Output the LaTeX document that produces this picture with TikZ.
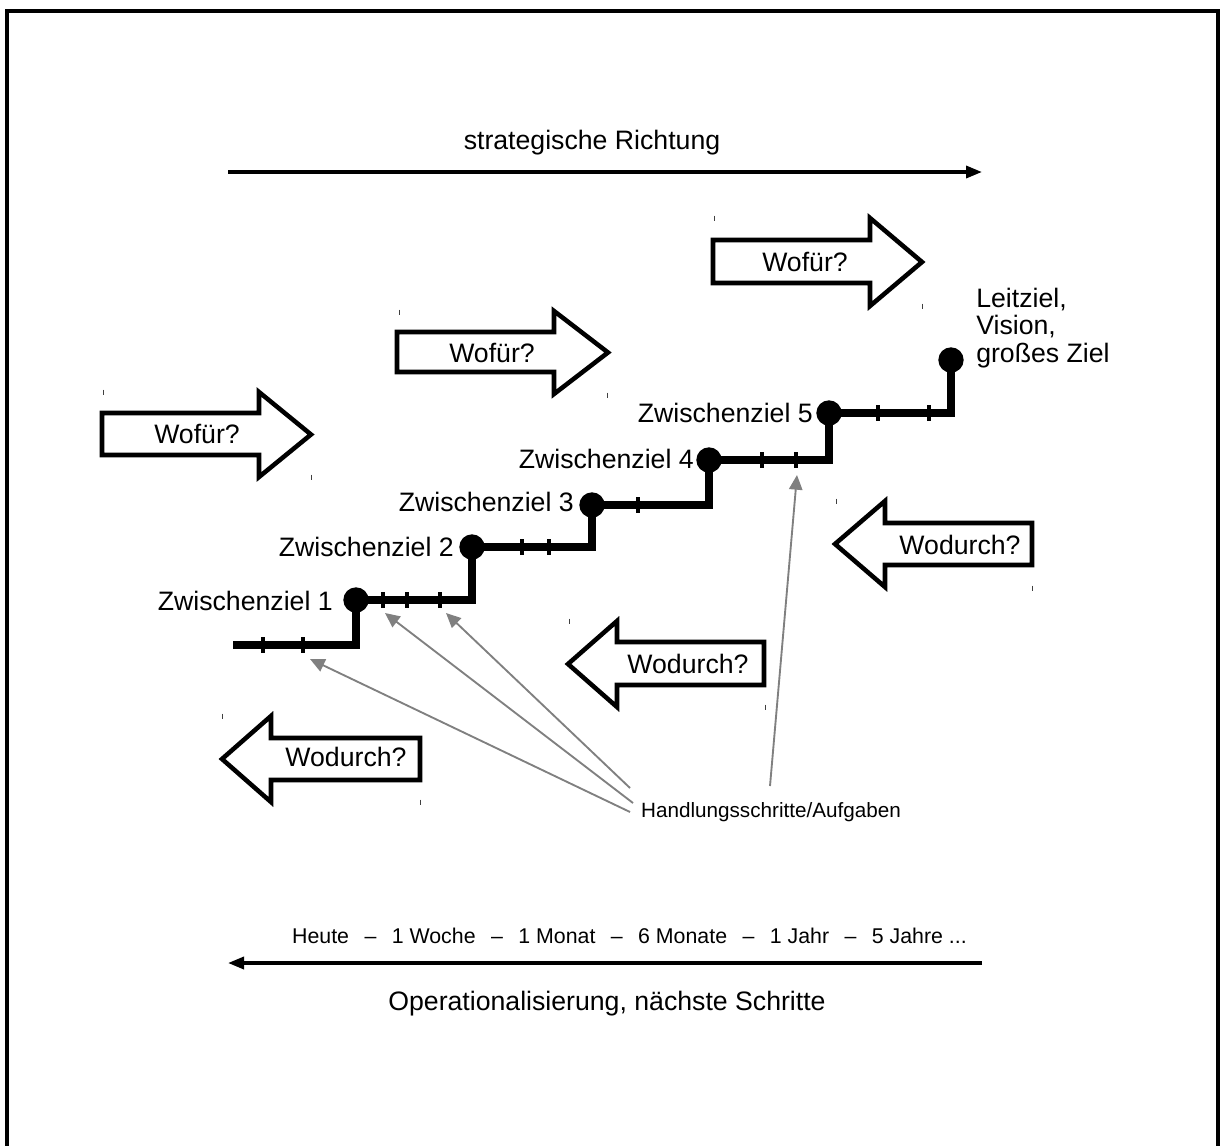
\documentclass[tikz,border=0pt]{standalone}
\usepackage{fontspec}
\setmainfont{Liberation Sans}
\usetikzlibrary{arrows.meta}
\begin{document}
\begin{tikzpicture}[x=0.75pt,y=-0.75pt,
  big/.style={font=\fontsize{20}{20.6}\selectfont, inner sep=0pt},
  small/.style={font=\fontsize{15.5}{18}\selectfont, inner sep=0pt},
  blockarrow/.style={draw=black, line width=3.4pt, line join=miter, fill=white},
  stair/.style={line width=5.4pt, line join=miter},
  tickmark/.style={line width=2.4pt},
  dot/.style={circle, fill=black, minimum size=19pt, inner sep=0pt},
  grayarrow/.style={draw={rgb,255:red,128;green,128;blue,128}, line width=1.4pt, -{Triangle[length=11pt,width=10pt]}},
  mainarrow/.style={line width=2.6pt, -{Triangle[length=12pt,width=9pt]}},
  cornermark/.style={line width=0.7pt, draw=black!75}]
\useasboundingbox (0,0) rectangle (1221,1146);
\begin{scope}
  \clip (0,0) rectangle (1221,1146);
  \draw[line width=3pt] (7,1170) -- (7,11) -- (1218,11) -- (1218,1170);
\end{scope}

% strategic direction
\node[big, anchor=base] (sr) at (592,149) {strategische Richtung};
\coordinate (srL) at (228,172);
\coordinate (srR) at (982,172);
\draw[mainarrow] (srL) -- (srR);

% Wofuer arrows
\draw[blockarrow] (102,413) -- (259,413) -- (259,392) -- (311,434.5) -- (259,477) -- (259,455) -- (102,455) -- cycle;
\node[big, anchor=base] (w1) at (197,443) {Wofür?};
\draw[blockarrow] (397,332) -- (554,332) -- (554,311) -- (608,352.5) -- (554,394) -- (554,372) -- (397,372) -- cycle;
\node[big, anchor=base] (w2) at (492,362) {Wofür?};
\draw[blockarrow] (713,240) -- (870,240) -- (870,218) -- (922,262) -- (870,306) -- (870,283) -- (713,283) -- cycle;
\node[big, anchor=base] (w3) at (805,271) {Wofür?};

% Wodurch arrows
\draw[blockarrow] (835,544) -- (885,501) -- (885,523) -- (1032,523) -- (1032,565) -- (885,565) -- (885,587) -- cycle;
\node[big, anchor=base] (d1) at (960,554) {Wodurch?};
\draw[blockarrow] (568,664) -- (617,621) -- (617,642) -- (764,642) -- (764,685) -- (617,685) -- (617,707) -- cycle;
\node[big, anchor=base] (d2) at (688,673) {Wodurch?};
\draw[blockarrow] (222,759) -- (271,716) -- (271,738) -- (420,738) -- (420,780) -- (271,780) -- (271,802) -- cycle;
\node[big, anchor=base] (d3) at (346,766) {Wodurch?};

% corner marks
\foreach \x/\y in {103/392,311/477,399/312,607/395,714/218,922/306,836/501,1032/588,569/621,765/707,222/716,420/802}
  \draw[cornermark] (\x,\y-2.5) -- (\x,\y+2.5);

% staircase
\coordinate (st) at (233,645);
\coordinate (c1) at (356,600);
\coordinate (c2) at (472,547);
\coordinate (c3) at (592,505);
\coordinate (c4) at (709,460);
\coordinate (c5) at (829,413);
\coordinate (c6) at (951,360);
\draw[stair] (st) -| (c1) -| (c2) -| (c3) -| (c4) -| (c5) -| (c6);
\foreach \x/\y in {263/645,303/645,383/600,407/600,440/600,522/547,549/547,638/505,762/460,796/460,878/413,929/413}
  \draw[tickmark] (\x,\y-8) -- (\x,\y+8);
\foreach \i in {1,...,6}
  \node[dot] (z\i) at (c\i) {};

% labels
\node[big, anchor=base east] (l1) at (333,610) {Zwischenziel 1};
\node[big, anchor=base east] (l2) at (454,556) {Zwischenziel 2};
\node[big, anchor=base east] (l3) at (574,511) {Zwischenziel 3};
\node[big, anchor=base east] (l4) at (694,468) {Zwischenziel 4};
\node[big, anchor=base east] (l5) at (813,422) {Zwischenziel 5};
\node[big, anchor=west, align=left] (lz) at (976,328) {Leitziel,\\Vision,\\großes Ziel};

% Handlungsschritte
\node[small, anchor=base] (hs) at (771,817) {Handlungsschritte/Aufgaben};
\coordinate (t1) at (630,788);
\coordinate (t2) at (633,803);
\coordinate (t3) at (630,812);
\coordinate (t4) at (770,786);
\coordinate (a1) at (446,613);
\coordinate (a2) at (385,613);
\coordinate (a3) at (310,659);
\coordinate (a4) at (797,475);
\draw[grayarrow] (t1) -- (a1);
\draw[grayarrow] (t2) -- (a2);
\draw[grayarrow] (t3) -- (a3);
\draw[grayarrow] (t4) -- (a4);

% timeline
\node[font=\fontsize{16}{19}\selectfont, inner sep=0pt, anchor=base] (tl) at (629.5,943)
  {\hbox to 506pt{Heute\hfill–\hfill 1 Woche\hfill–\hfill 1 Monat\hfill–\hfill 6 Monate\hfill–\hfill 1 Jahr\hfill–\hfill 5 Jahre ...}};
\coordinate (opR) at (982,963);
\coordinate (opL) at (228,963);
\draw[mainarrow] (opR) -- (opL);
\node[big, anchor=base] (op) at (607,1010) {Operationalisierung, nächste Schritte};
\end{tikzpicture}
\end{document}
